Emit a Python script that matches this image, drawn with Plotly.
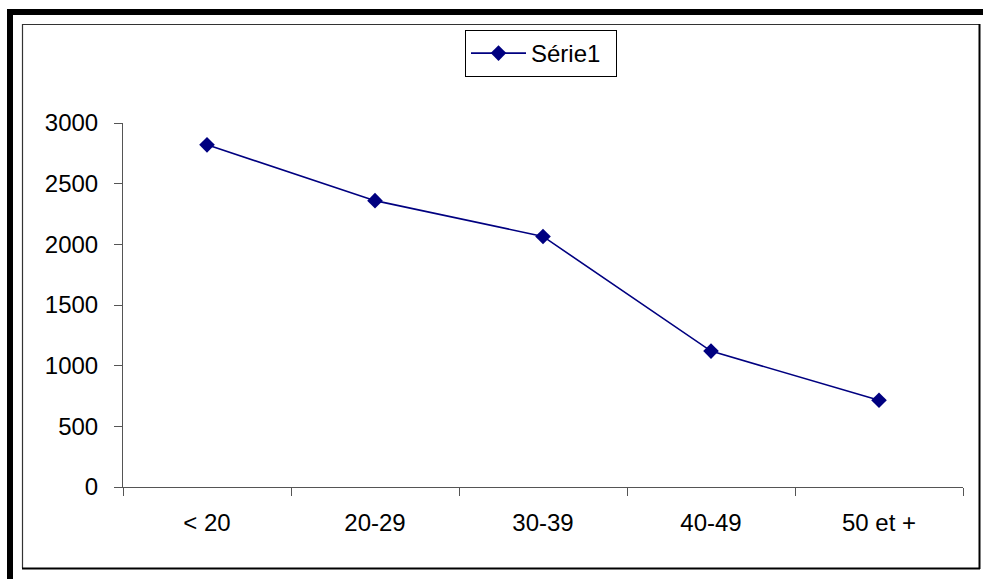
import plotly.graph_objects as go

categories = ["< 20", "20-29", "30-39", "40-49", "50 et +"]
values = [2820, 2360, 2065, 1120, 715]
series_name = "Série1"
y_ticks = [0, 500, 1000, 1500, 2000, 2500, 3000]

W, H = 983, 579
L, R, T, B = 123, 963, 123, 487  # plot area in pixels


def px(x):
    return (x - L) / (R - L)


def py(y):
    return (B - y) / (B - T)


fig = go.Figure()
fig.add_trace(go.Scatter(
    x=categories, y=values, name=series_name, mode="lines+markers",
    line=dict(color="#000080", width=1.6),
    marker=dict(symbol="diamond", size=12, color="#000080"),
    showlegend=True,
))

font = dict(family="Arial, Liberation Sans, sans-serif", size=24, color="black")

shapes = [
    # outer thick frame
    dict(type="rect", xref="paper", yref="paper", x0=px(10), x1=px(1000), y0=py(12), y1=py(600),
         line=dict(color="black", width=6), layer="below"),
    # inner frame: top/left thin, right/bottom heavier
    dict(type="line", xref="paper", yref="paper", x0=px(22), x1=px(979), y0=py(24.5), y1=py(24.5),
         line=dict(color="#333333", width=1.2)),
    dict(type="line", xref="paper", yref="paper", x0=px(22.5), x1=px(22.5), y0=py(24), y1=py(568),
         line=dict(color="#333333", width=1.2)),
    dict(type="line", xref="paper", yref="paper", x0=px(979.5), x1=px(979.5), y0=py(24), y1=py(569),
         line=dict(color="black", width=2)),
    dict(type="line", xref="paper", yref="paper", x0=px(22), x1=px(980), y0=py(568.5), y1=py(568.5),
         line=dict(color="black", width=2)),
]

fig.update_layout(
    width=W, height=H, autosize=False,
    margin=dict(l=L, r=W - R, t=T, b=H - B, pad=0),
    paper_bgcolor="white", plot_bgcolor="white",
    font=font,
    shapes=shapes,
    showlegend=True,
    legend=dict(
        x=px(541), xanchor="center", y=py(30), yanchor="top",
        bordercolor="black", borderwidth=1, bgcolor="white",
        font=font, orientation="h", itemwidth=55, entrywidth=80,
    ),
    xaxis=dict(
        type="category", range=[-0.5, 4.5], tickson="boundaries",
        showline=True, linecolor="#555555", linewidth=1,
        ticks="outside", ticklen=8, tickcolor="#555555", tickwidth=1,
        showgrid=False, zeroline=False, tickfont=font,
        ticklabelstandoff=14,
    ),
    yaxis=dict(
        range=[0, 3000], tickmode="array", tickvals=y_ticks,
        showline=True, linecolor="#555555", linewidth=1,
        ticks="outside", ticklen=8, tickcolor="#555555", tickwidth=1,
        showgrid=False, zeroline=False, tickfont=font,
        ticklabelstandoff=11,
    ),
)

fig.write_html(
    "out.html",
    config={"displayModeBar": False},
    post_script="document.body.style.margin='0';document.body.style.overflow='hidden';",
)
